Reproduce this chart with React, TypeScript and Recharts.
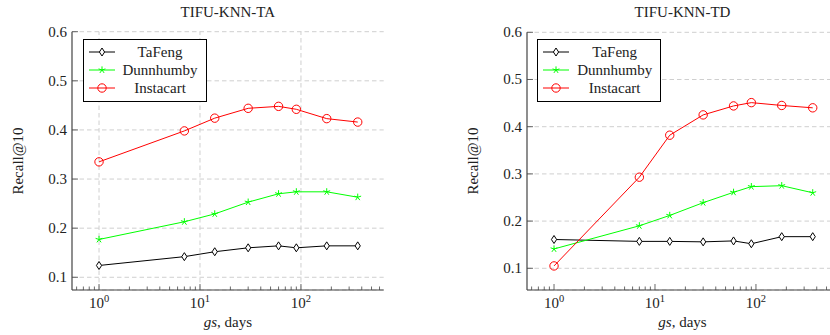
import React from "react";
import {
  LineChart,
  Line,
  XAxis,
  YAxis,
  CartesianGrid,
  ReferenceLine,
} from "recharts";

// gs values (days) and Recall@10 per dataset
const gsDays = [1, 7, 14, 30, 60, 90, 180, 365];

const tafengTA = [0.124, 0.142, 0.152, 0.16, 0.164, 0.16, 0.164, 0.164];
const dunnhumbyTA = [0.177, 0.213, 0.229, 0.253, 0.27, 0.274, 0.274, 0.263];
const instacartTA = [0.335, 0.398, 0.424, 0.444, 0.448, 0.442, 0.423, 0.416];

const tafengTD = [0.161, 0.157, 0.157, 0.156, 0.158, 0.152, 0.167, 0.167];
const dunnhumbyTD = [0.141, 0.19, 0.212, 0.239, 0.261, 0.273, 0.275, 0.26];
const instacartTD = [0.105, 0.293, 0.382, 0.425, 0.444, 0.451, 0.445, 0.44];

const majorX = [1, 10, 100];
const minorX = [
  0.6, 0.7, 0.8, 0.9, 2, 3, 4, 5, 6, 7, 8, 9, 20, 30, 40, 50, 60, 70, 80, 90,
  200, 300, 400, 500, 600,
];
const yTicks = [0.1, 0.2, 0.3, 0.4, 0.5, 0.6];

const seriesNames = ["TaFeng", "Dunnhumby", "Instacart"];
const seriesKeys = ["tafeng", "dunnhumby", "instacart"];
const seriesColors = ["#000000", "#00ff00", "#ff0000"];

const FONT = "'Times New Roman', 'Liberation Serif', Tinos, 'DejaVu Serif', serif";
const FS = 15;
const INK = "#222";
const AXIS = "#444";
const X_DOMAIN: [number, number] = [0.54, 660];

const buildRows = (a: number[], b: number[], c: number[]) =>
  gsDays.map((gs, i) => ({ gs, tafeng: a[i], dunnhumby: b[i], instacart: c[i] }));

const Marker = ({ kind, cx, cy }: { kind: string; cx: number; cy: number }) => {
  if (kind === "tafeng") {
    return (
      <path
        d={`M${cx},${cy - 4}L${cx + 2.6},${cy}L${cx},${cy + 4}L${cx - 2.6},${cy}Z`}
        fill="#fff"
        stroke="#000"
        strokeWidth={1}
      />
    );
  }
  if (kind === "dunnhumby") {
    const r = 3.6;
    const arms = [90, 162, 234, 306, 18].map((a) => {
      const t = (a * Math.PI) / 180;
      return `M${cx},${cy}L${cx + r * Math.cos(t)},${cy - r * Math.sin(t)}`;
    });
    return <path d={arms.join("")} stroke="#00ff00" strokeWidth={1} fill="none" />;
  }
  return <circle cx={cx} cy={cy} r={4.2} fill="none" stroke="#ff0000" strokeWidth={1} />;
};

const BottomTick = (props: any) => {
  const { x, y, payload } = props;
  const v = payload.value;
  const major = majorX.includes(v);
  return (
    <g>
      <line x1={x} x2={x} y1={y} y2={y - (major ? 6 : 3.5)} stroke={AXIS} strokeWidth={0.8} />
      {major && (
        <text x={x} y={y + 18} textAnchor="middle" style={{ fontFamily: FONT }} fontSize={FS} fill={INK}>
          10
          <tspan dy={-6} fontSize={10.5}>
            {Math.round(Math.log10(v))}
          </tspan>
        </text>
      )}
    </g>
  );
};

const TopTick = (props: any) => {
  const { x, y, payload } = props;
  const major = majorX.includes(payload.value);
  return <line x1={x} x2={x} y1={y} y2={y + (major ? 6 : 3.5)} stroke={AXIS} strokeWidth={0.8} />;
};

const LeftTick = (props: any) => {
  const { x, y, payload } = props;
  return (
    <g>
      <line x1={x} x2={x + 6} y1={y} y2={y} stroke={AXIS} strokeWidth={0.8} />
      <text x={x - 5} y={y + 5} textAnchor="end" style={{ fontFamily: FONT }} fontSize={FS} fill={INK}>
        {payload.value.toFixed(1)}
      </text>
    </g>
  );
};

const RightTick = (props: any) => {
  const { x, y } = props;
  return <line x1={x} x2={x - 6} y1={y} y2={y} stroke={AXIS} strokeWidth={0.8} />;
};

const LegendBox = ({ left, top }: { left: number; top: number }) => (
  <div
    style={{
      position: "absolute",
      left,
      top,
      width: 124,
      height: 63,
      boxSizing: "border-box",
      border: "1px solid #000",
      background: "#fff",
      paddingTop: 3,
      zIndex: 2,
    }}
  >
    {seriesNames.map((name, i) => (
      <div key={name} style={{ display: "flex", alignItems: "center", height: 18 }}>
        <svg width={31} height={18} style={{ flex: "none" }}>
          <line x1={5} x2={31} y1={9} y2={9} stroke={seriesColors[i]} strokeWidth={1} />
          <Marker kind={seriesKeys[i]} cx={18} cy={9} />
        </svg>
        <div
          style={{
            flex: 1,
            textAlign: "center",
            fontFamily: FONT,
            fontSize: FS,
            color: INK,
            lineHeight: "18px",
          }}
        >
          {name}
        </div>
      </div>
    ))}
  </div>
);

interface PanelProps {
  left: number;
  title: string;
  rows: any[];
  yDomain: [number, number];
  top: number;
  vGrid: boolean;
}

const Panel = ({ left, title, rows, yDomain, top, vGrid }: PanelProps) => {
  const W = 400;
  const H = 335;
  const plotLeft = 72;
  const plotRight = 383.7;
  const textStyle: React.CSSProperties = {
    position: "absolute",
    fontFamily: FONT,
    fontSize: FS,
    color: INK,
    whiteSpace: "nowrap",
  };
  return (
    <div style={{ position: "absolute", left, top: 0, width: W, height: H }}>
      <LineChart
        width={W}
        height={H}
        data={rows}
        margin={{ top, left: plotLeft - 40, right: W - plotRight, bottom: 0 }}
      >
        <CartesianGrid
          xAxisId="b"
          yAxisId="l"
          vertical={false}
          stroke="#cfcfcf"
          strokeDasharray="4.5 3"
        />
        {vGrid &&
          majorX.map((v) => (
            <ReferenceLine
              key={v}
              x={v}
              xAxisId="b"
              yAxisId="l"
              stroke="#cfcfcf"
              strokeDasharray="4.5 3"
            />
          ))}
        <XAxis
          xAxisId="b"
          dataKey="gs"
          type="number"
          scale="log"
          domain={X_DOMAIN}
          allowDataOverflow
          ticks={[...majorX, ...minorX]}
          interval={0}
          tickSize={0}
          tickMargin={0}
          tickLine={false}
          tick={<BottomTick />}
          height={45}
          axisLine={{ stroke: AXIS, strokeWidth: 1.2 }}
        />
        <XAxis
          xAxisId="t"
          orientation="top"
          dataKey="gs"
          type="number"
          scale="log"
          domain={X_DOMAIN}
          allowDataOverflow
          ticks={[...majorX, ...minorX]}
          interval={0}
          tickSize={0}
          tickMargin={0}
          tickLine={false}
          tick={<TopTick />}
          height={0}
          axisLine={{ stroke: "#111", strokeWidth: 1 }}
        />
        <YAxis
          yAxisId="l"
          type="number"
          domain={yDomain}
          allowDataOverflow
          ticks={yTicks}
          interval={0}
          tickSize={0}
          tickMargin={0}
          tickLine={false}
          tick={<LeftTick />}
          width={40}
          axisLine={{ stroke: AXIS, strokeWidth: 1.2 }}
        />
        <YAxis
          yAxisId="r"
          orientation="right"
          type="number"
          domain={yDomain}
          allowDataOverflow
          ticks={yTicks}
          interval={0}
          tickSize={0}
          tickMargin={0}
          tickLine={false}
          tick={<RightTick />}
          width={0}
          axisLine={{ stroke: "#777", strokeWidth: 1.2 }}
        />
        {seriesKeys.map((k, i) => (
          <Line
            key={k}
            xAxisId="b"
            yAxisId="l"
            dataKey={k}
            stroke={seriesColors[i]}
            strokeWidth={1}
            isAnimationActive={false}
            activeDot={false}
            dot={(p: any) => <Marker key={`${k}-${p.index}`} kind={k} cx={p.cx} cy={p.cy} />}
          />
        ))}
      </LineChart>
      <div style={{ ...textStyle, left: plotLeft, width: plotRight - plotLeft, top: 4, textAlign: "center" }}>
        {title}
      </div>
      <div style={{ ...textStyle, left: plotLeft, width: plotRight - plotLeft, top: 314, textAlign: "center" }}>
        <i>gs</i>, days
      </div>
      <div
        style={{
          ...textStyle,
          left: 18,
          top: 161,
          transform: "translate(-50%, -50%) rotate(-90deg)",
        }}
      >
        Recall@10
      </div>
      <LegendBox left={plotLeft + 10.5} top={39} />
    </div>
  );
};

export default function App() {
  const rowsTA = buildRows(tafengTA, dunnhumbyTA, instacartTA);
  const rowsTD = buildRows(tafengTD, dunnhumbyTD, instacartTD);
  return (
    <div
      style={{
        position: "fixed",
        left: 0,
        top: 0,
        width: 830,
        height: 335,
        overflow: "hidden",
        background: "#fff",
      }}
    >
      <Panel left={0} title="TIFU-KNN-TA" rows={rowsTA} yDomain={[0.0741, 0.6]} top={31.7} vGrid />
      <Panel
        left={454.7}
        title="TIFU-KNN-TD"
        rows={rowsTD}
        yDomain={[0.054, 0.6]}
        top={32.3}
        vGrid={false}
      />
    </div>
  );
}
